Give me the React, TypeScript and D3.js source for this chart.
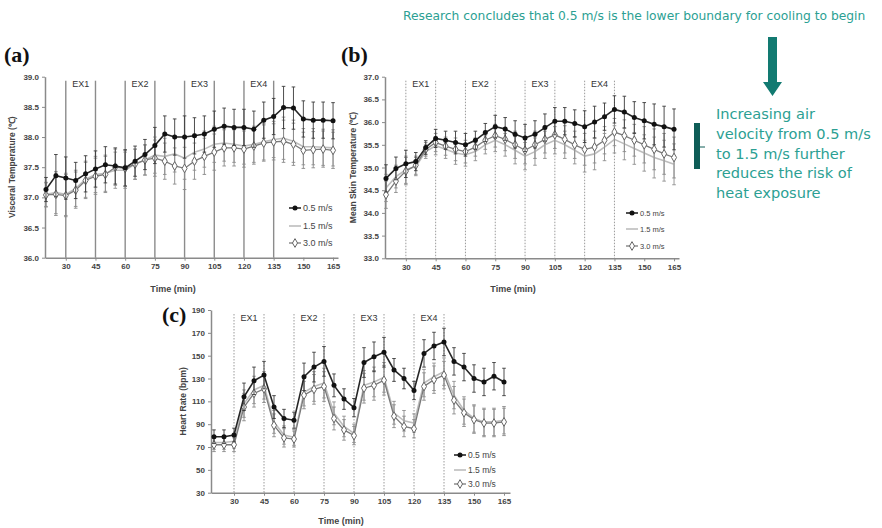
import React, { useRef, useEffect } from 'react';
import * as d3 from 'd3';

// time points (min) shared by all three panels
const times = [20, 25, 30, 35, 40, 45, 50, 55, 60, 65, 70, 75, 80, 85, 90, 95, 100, 105, 110, 115, 120, 125, 130, 135, 140, 145, 150, 155, 160, 165];
const timeTicks = [30, 45, 60, 75, 90, 105, 120, 135, 150, 165];
const exBouts = [[30, 45], [60, 75], [90, 105], [120, 135]];
const exLabels = ['EX1', 'EX2', 'EX3', 'EX4'];
const speedLabels = ['0.5 m/s', '1.5 m/s', '3.0 m/s'];

// (a) visceral temperature
const visceral05 = [37.13, 37.36, 37.32, 37.28, 37.39, 37.47, 37.54, 37.52, 37.49, 37.6, 37.71, 37.86, 38.05, 38.0, 38.0, 38.02, 38.05, 38.13, 38.18, 38.16, 38.16, 38.13, 38.28, 38.34, 38.49, 38.48, 38.3, 38.28, 38.28, 38.27];
const visceral15 = [37.05, 37.08, 37.05, 37.15, 37.3, 37.38, 37.4, 37.45, 37.45, 37.55, 37.62, 37.7, 37.68, 37.72, 37.65, 37.75, 37.8, 37.88, 37.9, 37.88, 37.85, 37.88, 37.92, 37.96, 37.98, 37.93, 37.84, 37.84, 37.83, 37.82];
const visceral30 = [37.04, 37.05, 37.03, 37.12, 37.28, 37.35, 37.38, 37.5, 37.48, 37.55, 37.62, 37.65, 37.6, 37.52, 37.48, 37.6, 37.68, 37.75, 37.82, 37.82, 37.8, 37.85, 37.9, 37.92, 37.93, 37.88, 37.78, 37.79, 37.8, 37.78];
const visceralSd = [0.2, 0.35, 0.35, 0.3, 0.3, 0.3, 0.3, 0.3, 0.3, 0.25, 0.25, 0.3, 0.3, 0.3, 0.35, 0.3, 0.3, 0.3, 0.3, 0.3, 0.3, 0.3, 0.3, 0.3, 0.35, 0.35, 0.3, 0.3, 0.3, 0.3];
const visceralTicks = [36.0, 36.5, 37.0, 37.5, 38.0, 38.5, 39.0];

// (b) mean skin temperature
const skin05 = [34.76, 34.98, 35.08, 35.13, 35.44, 35.64, 35.6, 35.55, 35.5, 35.6, 35.77, 35.9, 35.85, 35.73, 35.65, 35.73, 35.88, 36.02, 36.02, 35.97, 35.9, 36.0, 36.12, 36.28, 36.22, 36.1, 36.03, 35.95, 35.9, 35.84];
const skin15 = [34.55, 34.8, 34.95, 35.02, 35.35, 35.48, 35.4, 35.32, 35.28, 35.35, 35.5, 35.6, 35.5, 35.38, 35.25, 35.35, 35.5, 35.6, 35.5, 35.38, 35.25, 35.3, 35.45, 35.62, 35.52, 35.42, 35.32, 35.22, 35.15, 35.07];
const skin30 = [34.4, 34.7, 34.92, 35.05, 35.4, 35.55, 35.47, 35.4, 35.35, 35.45, 35.6, 35.7, 35.62, 35.5, 35.38, 35.5, 35.62, 35.72, 35.62, 35.5, 35.4, 35.45, 35.6, 35.78, 35.7, 35.6, 35.5, 35.4, 35.3, 35.22];
const skinSd = [0.3, 0.25, 0.3, 0.2, 0.15, 0.2, 0.2, 0.25, 0.25, 0.2, 0.2, 0.25, 0.25, 0.3, 0.3, 0.3, 0.3, 0.3, 0.3, 0.3, 0.35, 0.35, 0.3, 0.3, 0.35, 0.35, 0.4, 0.45, 0.45, 0.45];
const skinTicks = [33.0, 33.5, 34.0, 34.5, 35.0, 35.5, 36.0, 36.5, 37.0];

// (c) heart rate
const hr05 = [79, 79, 80.5, 114, 128, 133, 105, 95, 93.5, 131.5, 140, 145, 124, 112, 104.5, 144, 149, 153, 137.5, 130, 119.5, 152, 158.5, 162, 145, 140, 130, 127, 132, 127];
const hr15 = [74, 74, 75, 108, 120, 124, 92, 80.5, 78.5, 118, 123, 126, 99.5, 88, 82, 124, 127, 131, 100, 93, 91, 126, 131.5, 136, 115.5, 102, 95, 92, 92, 93.5];
const hr30 = [72, 72, 72, 105, 117, 121, 89, 78, 77, 115.5, 120.5, 123, 95, 85, 80, 121.5, 124, 128.5, 97, 88, 86, 123, 129, 133, 111, 100, 94, 91, 91, 92];
const hrSd = [6, 6, 6, 12, 12, 12, 10, 8, 7, 12, 13, 13, 10, 9, 8, 13, 13, 13, 10, 9, 8, 12, 12, 12, 12, 12, 12, 12, 12, 12];
const hrTicks = [30, 50, 70, 90, 110, 130, 150, 170, 190];

const noteTop = 'Research concludes that 0.5 m/s is the lower boundary for cooling to begin';
const noteSide = ['Increasing air', 'velocity from 0.5 m/s', 'to 1.5 m/s further', 'reduces the risk of', 'heat exposure'];

const FONT = "'Liberation Sans', Arial, sans-serif";
const TEAL = '#2c9f93';

const seriesStyle = [
  { stroke: '#262626', width: 1.6, err: '#3a3a3a', marker: 'dot' },
  { stroke: '#bdbdbd', width: 1.6, err: '#8f8f8f', marker: 'none' },
  { stroke: '#7a7a7a', width: 1.3, err: '#8a8a8a', marker: 'diamond' },
];

const panels = [
  {
    tag: '(a)', tagX: 4, tagY: 62,
    series: [visceral05, visceral15, visceral30], sd: visceralSd,
    yDomain: [36, 39], yTicks: visceralTicks, fmt: '.1f',
    xRange: [45, 338], tDomain: [19.5, 167.5], yRange: [257.7, 76.7],
    solid: true, exY: 87,
    yTitle: 'Visceral Temperature (℃)', yTitleX: 12,
    xTitleX: 173, xTitleY: 292,
    legendX: 289, legendY: [208, 226, 243], legendSize: 9,
  },
  {
    tag: '(b)', tagX: 341, tagY: 62,
    series: [skin05, skin15, skin30], sd: skinSd,
    yDomain: [33, 37], yTicks: skinTicks, fmt: '.1f',
    xRange: [385, 679], tDomain: [19.5, 167.5], yRange: [258.3, 76.7],
    solid: false, exY: 87,
    yTitle: 'Mean Skin Temperature (℃)', yTitleX: 353,
    xTitleX: 513, xTitleY: 292,
    legendX: 626, legendY: [213, 229, 246], legendSize: 7.5,
  },
  {
    tag: '(c)', tagX: 162, tagY: 322,
    series: [hr05, hr15, hr30], sd: hrSd,
    yDomain: [30, 190], yTicks: hrTicks, fmt: 'd',
    xRange: [211, 510], tDomain: [18.5, 168], yRange: [492.7, 310],
    solid: false, exY: 321,
    yTitle: 'Heart Rate (bpm)', yTitleX: 183,
    xTitleX: 341, xTitleY: 524,
    legendX: 454, legendY: [455, 470, 484], legendSize: 8.5,
  },
];

function drawMarker(g, kind, cx, cy) {
  if (kind === 'dot') {
    g.append('circle').attr('cx', cx).attr('cy', cy).attr('r', 2.5).attr('fill', '#111');
  } else if (kind === 'diamond') {
    g.append('path')
      .attr('d', d3.symbol(d3.symbolDiamond, 22)())
      .attr('transform', `translate(${cx},${cy})`)
      .attr('fill', '#fff').attr('stroke', '#666').attr('stroke-width', 1);
  }
}

function drawPanel(svg, p) {
  const g = svg.append('g');
  const x = d3.scaleLinear().domain(p.tDomain).range(p.xRange);
  const y = d3.scaleLinear().domain(p.yDomain).range(p.yRange);

  // exercise bout boundaries
  g.selectAll('line.bout')
    .data(exBouts.flat())
    .enter().append('line')
    .attr('x1', d => x(d)).attr('x2', d => x(d))
    .attr('y1', p.yRange[1] + 4).attr('y2', p.yRange[0])
    .attr('stroke', p.solid ? '#8c8c8c' : '#9a9a9a')
    .attr('stroke-width', p.solid ? 1.4 : 1)
    .attr('stroke-dasharray', p.solid ? null : '1.5,1.5');

  g.selectAll('text.ex')
    .data(exBouts)
    .enter().append('text')
    .attr('x', d => x((d[0] + d[1]) / 2))
    .attr('y', p.exY)
    .attr('text-anchor', 'middle')
    .attr('font-family', FONT).attr('font-size', 9).attr('fill', '#333')
    .text((d, i) => exLabels[i]);

  // axes
  const yAxis = g.append('g')
    .attr('transform', `translate(${p.xRange[0]},0)`)
    .call(d3.axisLeft(y).tickValues(p.yTicks).tickFormat(d3.format(p.fmt)).tickSize(3).tickSizeOuter(0));
  const xAxis = g.append('g')
    .attr('transform', `translate(0,${p.yRange[0]})`)
    .call(d3.axisBottom(x).tickValues(timeTicks).tickFormat(d3.format('d')).tickSize(3).tickSizeOuter(0));
  [yAxis, xAxis].forEach(a => {
    a.attr('font-family', FONT).attr('font-size', 8).attr('font-weight', 'bold');
    a.select('.domain').attr('stroke', '#8a8a8a').attr('stroke-width', 1.5);
    a.selectAll('.tick line').attr('stroke', '#8a8a8a');
    a.selectAll('.tick text').attr('fill', '#444');
  });

  // series: 1.5 and 3.0 first, 0.5 on top
  [1, 2, 0].forEach(si => {
    const st = seriesStyle[si];
    const pts = times.map((t, i) => ({ t, v: p.series[si][i], e: p.sd[i] }));
    const eb = g.append('g').attr('stroke', st.err).attr('stroke-width', 0.9);
    pts.forEach(d => {
      const px = x(d.t);
      eb.append('line').attr('x1', px).attr('x2', px).attr('y1', y(d.v - d.e)).attr('y2', y(d.v + d.e));
      eb.append('line').attr('x1', px - 1.8).attr('x2', px + 1.8).attr('y1', y(d.v + d.e)).attr('y2', y(d.v + d.e));
      eb.append('line').attr('x1', px - 1.8).attr('x2', px + 1.8).attr('y1', y(d.v - d.e)).attr('y2', y(d.v - d.e));
    });
    g.append('path')
      .datum(pts)
      .attr('d', d3.line().x(d => x(d.t)).y(d => y(d.v)))
      .attr('fill', 'none')
      .attr('stroke', st.stroke)
      .attr('stroke-width', st.width);
    pts.forEach(d => drawMarker(g, st.marker, x(d.t), y(d.v)));
  });

  // legend
  speedLabels.forEach((label, i) => {
    const st = seriesStyle[i];
    const ly = p.legendY[i];
    g.append('line')
      .attr('x1', p.legendX).attr('x2', p.legendX + 12)
      .attr('y1', ly).attr('y2', ly)
      .attr('stroke', st.stroke).attr('stroke-width', st.width);
    drawMarker(g, st.marker, p.legendX + 6, ly);
    g.append('text')
      .attr('x', p.legendX + 14).attr('y', ly).attr('dy', '0.35em')
      .attr('font-family', FONT).attr('font-size', p.legendSize).attr('fill', '#444')
      .text(label);
  });

  // titles
  const yMid = (p.yRange[0] + p.yRange[1]) / 2;
  g.append('text')
    .attr('transform', `translate(${p.yTitleX},${yMid}) rotate(-90)`)
    .attr('text-anchor', 'middle').attr('dy', '0.35em')
    .attr('font-family', FONT).attr('font-size', 8.5).attr('font-weight', 'bold').attr('fill', '#444')
    .text(p.yTitle);
  g.append('text')
    .attr('x', p.xTitleX).attr('y', p.xTitleY)
    .attr('text-anchor', 'middle')
    .attr('font-family', FONT).attr('font-size', 9).attr('font-weight', 'bold').attr('fill', '#444')
    .text('Time (min)');
  g.append('text')
    .attr('x', p.tagX).attr('y', p.tagY)
    .attr('font-family', "'Liberation Serif', 'Times New Roman', serif")
    .attr('font-size', 22).attr('font-weight', 'bold').attr('fill', '#111')
    .text(p.tag);
}

const App = () => {
  const ref = useRef(null);

  useEffect(() => {
    const svg = d3.select(ref.current);
    svg.selectAll('*').remove();

    svg.append('rect').attr('width', 882).attr('height', 528).attr('fill', '#fff');

    panels.forEach(p => drawPanel(svg, p));

    // annotations
    svg.append('text')
      .attr('x', 403).attr('y', 20)
      .attr('font-family', "'DejaVu Sans', sans-serif").attr('font-size', 12.3)
      .attr('fill', TEAL)
      .text(noteTop);

    svg.append('path')
      .attr('d', 'M768,37 L777,37 L777,82 L782,82 L772.5,96 L763,82 L768,82 Z')
      .attr('fill', '#127a71');

    svg.append('rect').attr('x', 694).attr('y', 123).attr('width', 6).attr('height', 46).attr('fill', '#0e5d57');
    svg.append('line').attr('x1', 700).attr('x2', 705).attr('y1', 147).attr('y2', 147)
      .attr('stroke', '#0e5d57').attr('stroke-width', 1);

    svg.append('g').selectAll('text')
      .data(noteSide)
      .enter().append('text')
      .attr('x', 716)
      .attr('y', (d, i) => 119 + i * 19.8)
      .attr('font-family', "'DejaVu Sans', sans-serif").attr('font-size', 14.6)
      .attr('fill', TEAL)
      .text(d => d);
  }, []);

  return <svg ref={ref} width={882} height={528} style={{ position: 'absolute', left: 0, top: 0 }}></svg>;
};

export default App;
